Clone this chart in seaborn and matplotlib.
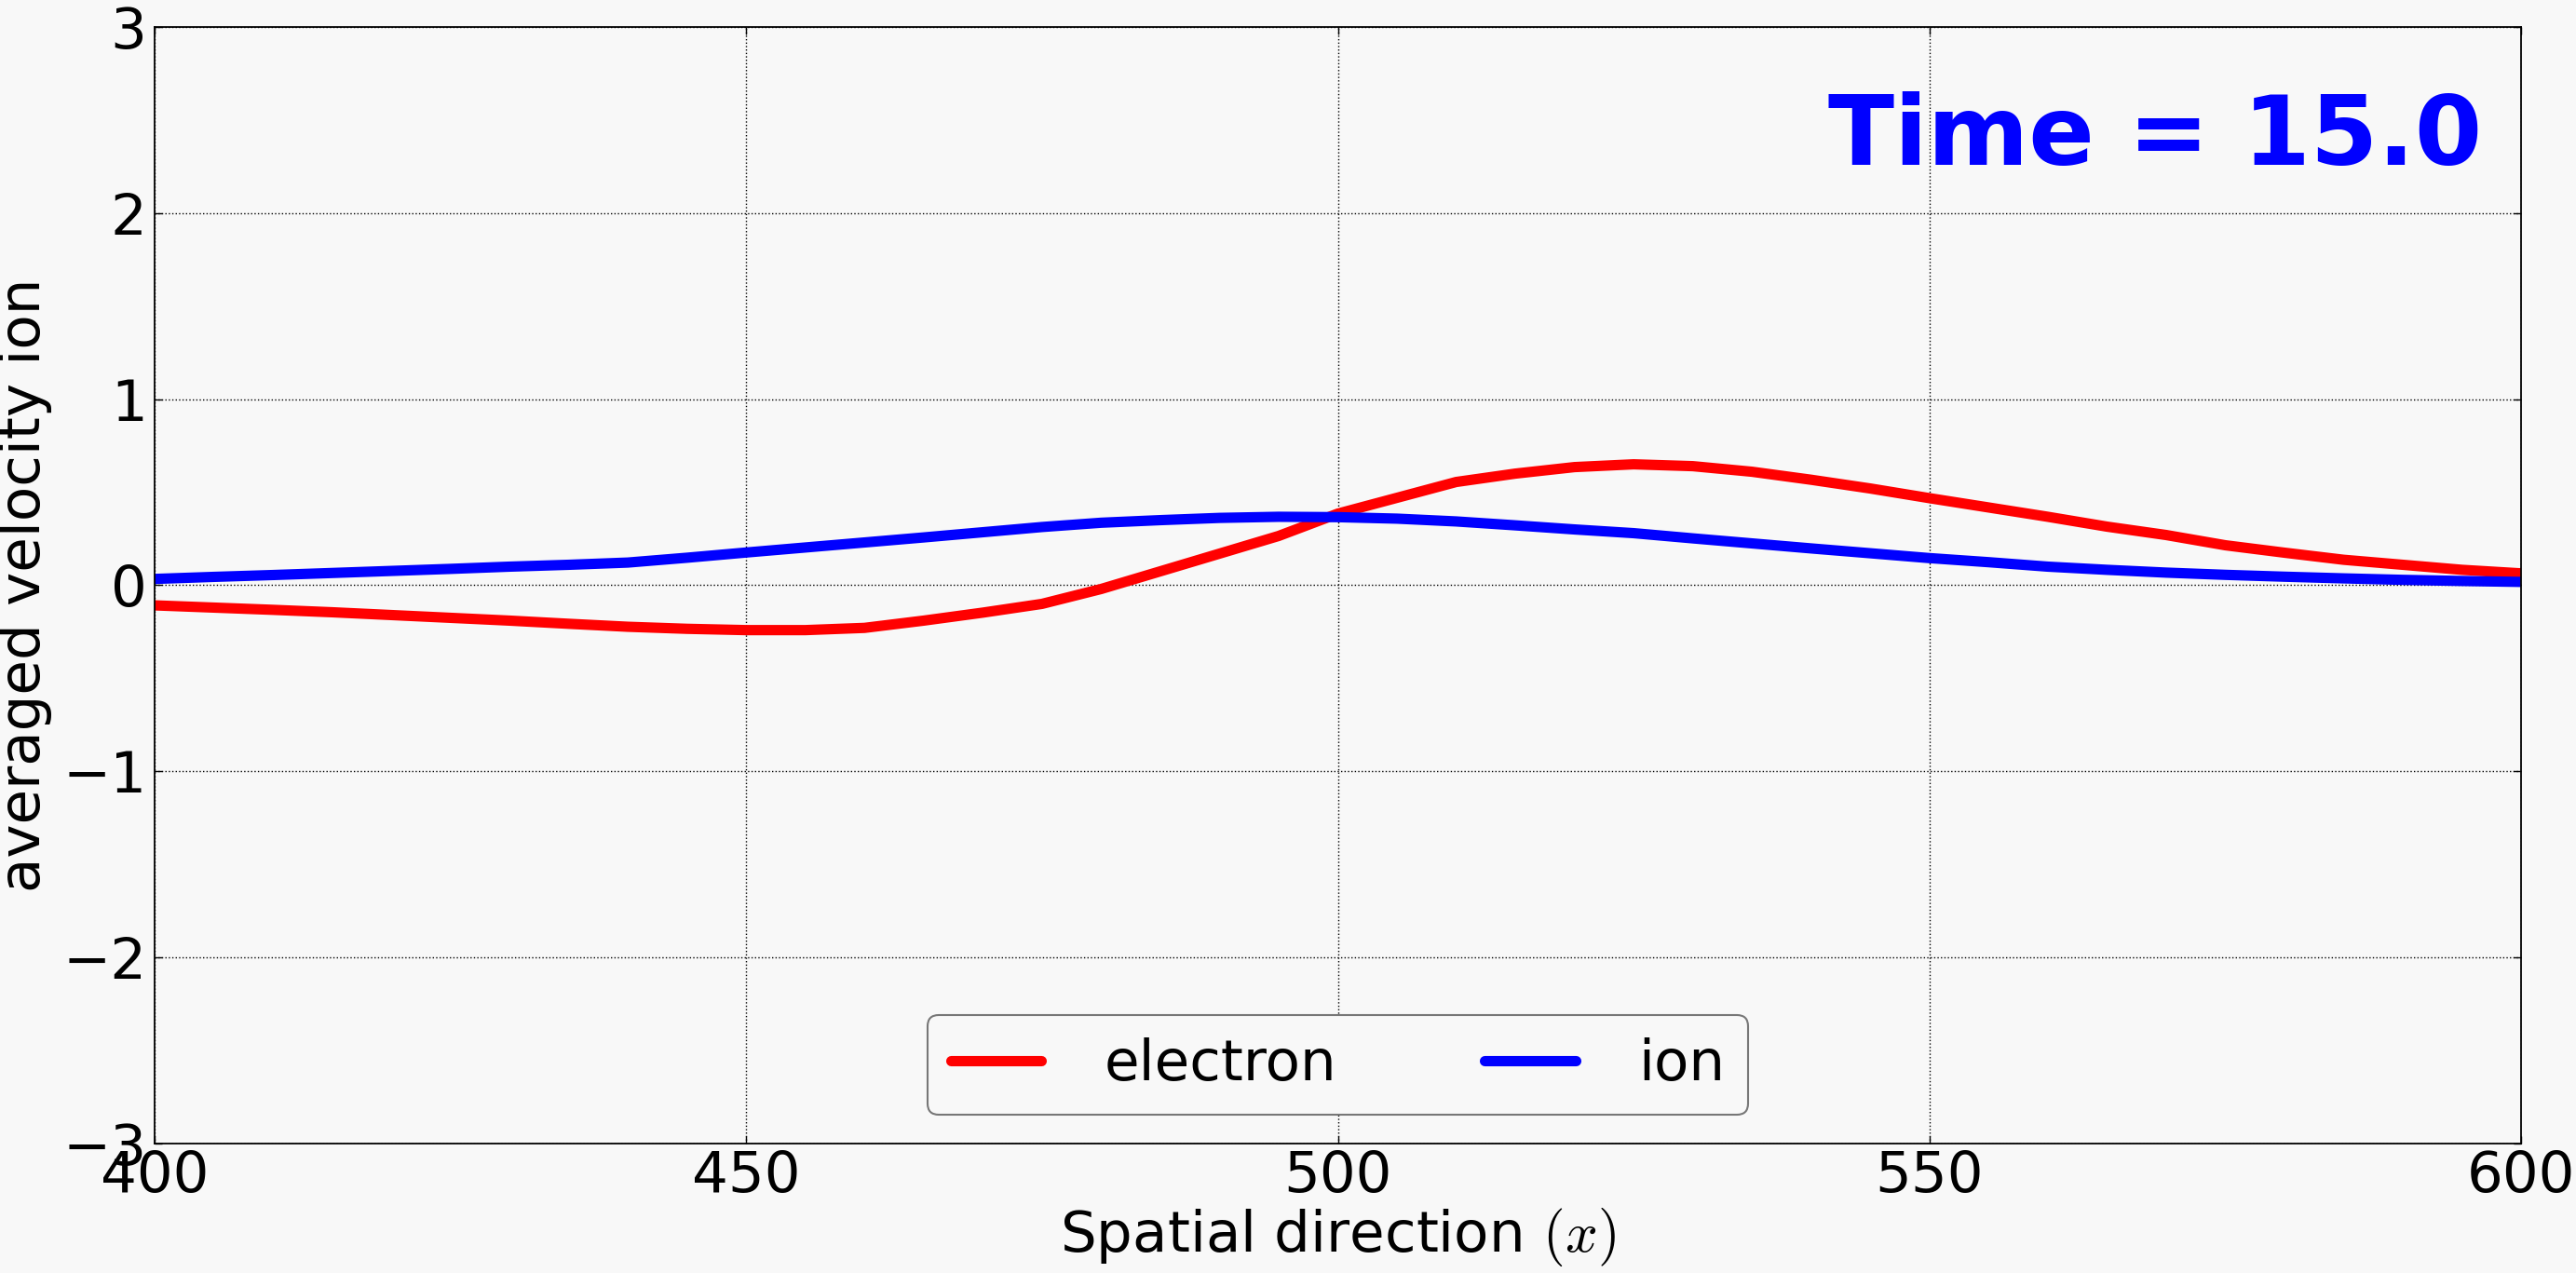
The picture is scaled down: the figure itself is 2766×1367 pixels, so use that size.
import numpy as np
import pandas as pd
import matplotlib
matplotlib.use('Agg')
import matplotlib.pyplot as plt
import seaborn as sns

# Values (x step of 5)
x_pos = list(range(400, 601, 5))

electron_v = [-0.108, -0.120, -0.132, -0.145, -0.160, -0.175, -0.190, -0.207, -0.223,
              -0.234, -0.241, -0.241, -0.229, -0.190, -0.147, -0.100, -0.020, 0.075,
              0.170, 0.265, 0.385, 0.470, 0.555, 0.600, 0.635, 0.650, 0.640, 0.610,
              0.567, 0.520, 0.468, 0.418, 0.368, 0.315, 0.270, 0.215, 0.175, 0.137,
              0.110, 0.083, 0.064]

ion_v = [0.034, 0.045, 0.055, 0.066, 0.077, 0.088, 0.100, 0.110, 0.122, 0.148,
         0.176, 0.203, 0.230, 0.257, 0.285, 0.313, 0.336, 0.350, 0.362, 0.368,
         0.366, 0.358, 0.343, 0.322, 0.300, 0.280, 0.252, 0.225, 0.198, 0.172,
         0.146, 0.124, 0.100, 0.083, 0.068, 0.056, 0.046, 0.037, 0.029, 0.023,
         0.018]

x_ticks = [400, 450, 500, 550, 600]
y_ticks = [-3, -2, -1, 0, 1, 2, 3]
time_label = 'Time = 15.0'

bg = '#f8f8f8'
sns.set_style('whitegrid', rc={
    'axes.facecolor': bg,
    'figure.facecolor': bg,
    'axes.edgecolor': 'black',
    'axes.labelcolor': 'black',
    'text.color': 'black',
    'xtick.color': 'black',
    'ytick.color': 'black',
    'grid.color': 'black',
    'grid.linestyle': ':',
    'xtick.direction': 'in',
    'ytick.direction': 'in',
    'xtick.top': True,
    'ytick.right': True,
    'xtick.bottom': True,
    'ytick.left': True,
})
plt.rcParams['font.family'] = ['DejaVu Sans']
plt.rcParams['mathtext.fontset'] = 'cm'

fig = plt.figure(figsize=(27.66, 13.67), dpi=100)
ax = fig.add_axes([0.0600, 0.1017, 0.9187, 0.8771])

df = pd.DataFrame({'x': x_pos, 'electron': electron_v, 'ion': ion_v})
sns.lineplot(data=df, x='x', y='electron', color='red', linewidth=8, label='electron', ax=ax)
sns.lineplot(data=df, x='x', y='ion', color='blue', linewidth=8, label='ion', ax=ax)

ax.set_xlim(400, 600)
ax.set_ylim(-3, 3)
ax.set_xticks(x_ticks)
ax.set_yticks(y_ticks)
ax.grid(True, color='black', linestyle=':', linewidth=1.0)
for sp in ax.spines.values():
    sp.set_linewidth(1.3)
    sp.set_color('black')

ax.tick_params(axis='both', which='major', labelsize=44, length=6, width=1,
               color='black', labelcolor='black')
ax.tick_params(axis='x', pad=4)
ax.tick_params(axis='y', pad=6)

ax.set_xlabel(r'Spatial direction $(x)$', fontsize=44, labelpad=2, color='black')
ax.set_ylabel('averaged velocity ion', fontsize=44, labelpad=8, color='black')

ax.text(0.9835, 0.8766, time_label, transform=ax.transAxes, ha='right', va='baseline',
        fontsize=75, fontweight='bold', color='blue')

leg = ax.legend(loc='lower center', ncol=2, fontsize=44, handlelength=1.6,
                handletextpad=1.1, columnspacing=2.6, fancybox=True, framealpha=1.0)
leg.get_frame().set_facecolor(bg)
leg.get_frame().set_edgecolor('#777777')
leg.get_frame().set_linewidth(1.5)
for t in leg.get_texts():
    t.set_color('black')

fig.savefig('out.png', dpi=100, facecolor=bg)
print('Saved: out.png')
